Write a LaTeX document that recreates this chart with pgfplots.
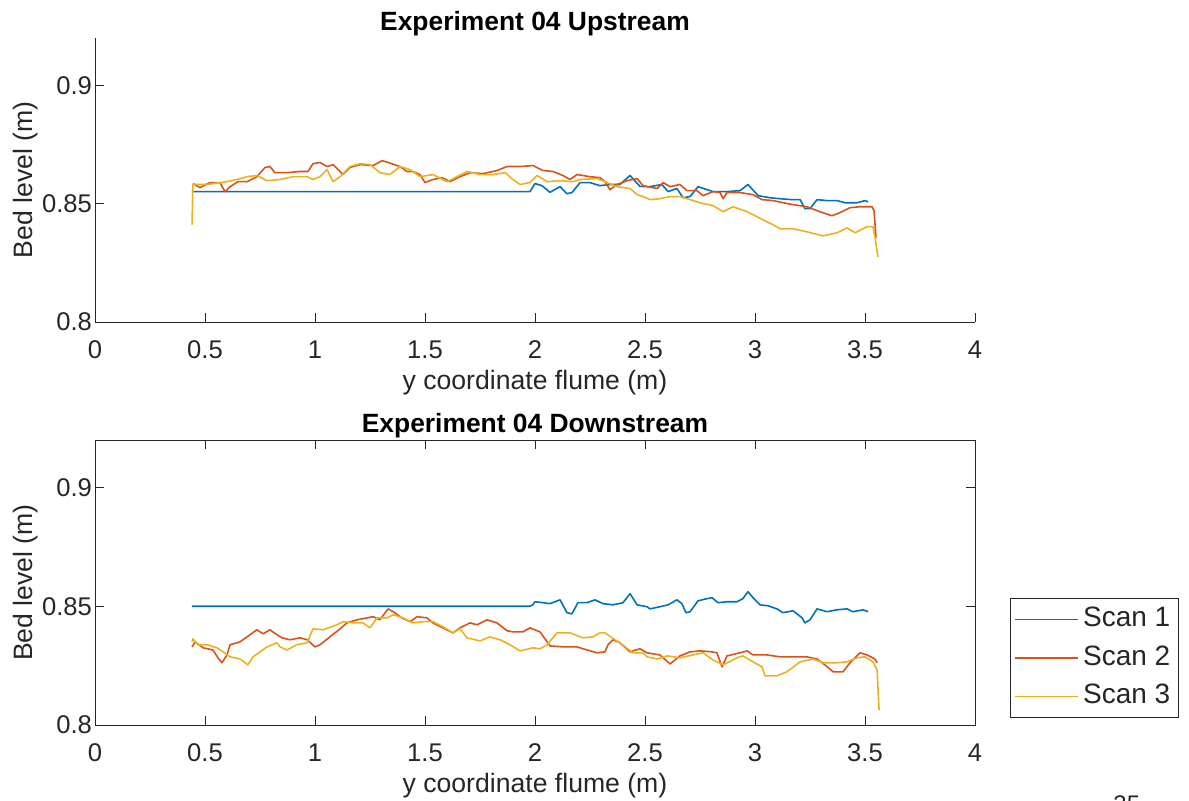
\documentclass[border=0pt]{standalone}
\usepackage{fontspec}
\setmainfont{Liberation Sans}
\usepackage{pgfplots}
\pgfplotsset{compat=1.18}

% MATLAB default line colours
\definecolor{mblue}{rgb}{0,0.447,0.741}
\definecolor{mred}{rgb}{0.850,0.325,0.098}
\definecolor{myellow}{rgb}{0.929,0.694,0.125}
\definecolor{axgray}{rgb}{0.15,0.15,0.15}

\pgfplotsset{
  flume/.style={
    scale only axis, width=440pt,
    xmin=0, xmax=4, ymin=0.8, ymax=0.92,
    xtick={0,0.5,1,1.5,2,2.5,3,3.5,4}, ytick={0.8,0.85,0.9},
    tick align=inside, major tick length=4.4pt,
    axis line style={axgray, line width=0.5pt},
    every tick/.style={axgray, line width=0.5pt},
    tick label style={font=\fontsize{12.8}{14}\selectfont, text=axgray},
    xticklabel style={yshift=-6pt},
    yticklabel style={xshift=2pt},
    label style={font=\fontsize{13.3}{15}\selectfont, text=axgray},
    xlabel style={yshift=1.5pt},
    ylabel style={yshift=-5pt},
    title style={font=\bfseries\fontsize{13.2}{15}\selectfont, text=black, yshift=-8.5pt},
    xlabel={y coordinate flume (m)}, ylabel={Bed level (m)},
    /pgf/number format/assume math mode=true,
    /pgf/number format/fixed,
    every axis plot/.append style={line width=0.8pt, line join=round},
  }
}

\begin{document}
\begin{tikzpicture}
\useasboundingbox (0,0) rectangle (594.5pt,400pt);

% ---------------- upstream ----------------
\begin{axis}[flume, height=142pt,
  at={(47.5pt,239pt)}, anchor=south west,
  axis x line*=bottom, axis y line*=left,
  title={Experiment 04 Upstream}]
\addplot[mblue] table {
0.440 0.8551
1.977 0.8551
2.000 0.8585
2.032 0.8576
2.068 0.8548
2.114 0.8572
2.145 0.8542
2.168 0.8547
2.205 0.8589
2.250 0.8589
2.295 0.8576
2.341 0.8581
2.386 0.8581
2.432 0.8619
2.477 0.8573
2.523 0.8572
2.577 0.8581
2.605 0.8551
2.645 0.8564
2.673 0.8525
2.705 0.8530
2.741 0.8572
2.809 0.8551
2.873 0.8551
2.932 0.8555
2.968 0.8581
3.014 0.8534
3.068 0.8525
3.114 0.8521
3.168 0.8517
3.205 0.8517
3.227 0.8479
3.250 0.8479
3.282 0.8517
3.327 0.8513
3.373 0.8513
3.409 0.8504
3.464 0.8504
3.500 0.8513
3.514 0.8508
};
\addplot[mred] table {
0.445 0.8585
0.477 0.8568
0.523 0.8589
0.568 0.8589
0.591 0.8551
0.614 0.8572
0.650 0.8593
0.691 0.8593
0.736 0.8614
0.773 0.8653
0.795 0.8657
0.818 0.8631
0.873 0.8631
0.932 0.8636
0.968 0.8636
0.991 0.8669
1.023 0.8674
1.055 0.8657
1.082 0.8665
1.127 0.8623
1.159 0.8653
1.205 0.8665
1.264 0.8661
1.305 0.8682
1.332 0.8674
1.386 0.8657
1.418 0.8636
1.445 0.8636
1.477 0.8623
1.500 0.8589
1.536 0.8602
1.577 0.8610
1.614 0.8593
1.659 0.8614
1.705 0.8631
1.764 0.8627
1.827 0.8640
1.873 0.8657
1.932 0.8657
1.991 0.8661
2.036 0.8640
2.082 0.8636
2.127 0.8619
2.159 0.8602
2.191 0.8623
2.250 0.8614
2.295 0.8610
2.318 0.8593
2.341 0.8559
2.373 0.8581
2.418 0.8597
2.464 0.8606
2.491 0.8576
2.555 0.8564
2.582 0.8589
2.614 0.8572
2.659 0.8581
2.691 0.8555
2.736 0.8555
2.764 0.8534
2.809 0.8551
2.841 0.8547
2.855 0.8521
2.873 0.8547
2.932 0.8547
2.991 0.8538
3.032 0.8517
3.082 0.8513
3.127 0.8504
3.173 0.8496
3.236 0.8487
3.295 0.8466
3.350 0.8449
3.386 0.8462
3.432 0.8483
3.477 0.8487
3.532 0.8487
3.541 0.8470
3.550 0.8356
};
\addplot[myellow] table {
0.441 0.8411
0.445 0.8581
0.455 0.8581
0.509 0.8581
0.568 0.8589
0.600 0.8593
0.645 0.8602
0.691 0.8614
0.736 0.8619
0.782 0.8597
0.841 0.8602
0.900 0.8614
0.964 0.8614
0.991 0.8602
1.023 0.8614
1.055 0.8644
1.082 0.8593
1.114 0.8614
1.159 0.8657
1.205 0.8669
1.250 0.8665
1.295 0.8631
1.341 0.8623
1.386 0.8657
1.432 0.8644
1.477 0.8614
1.536 0.8623
1.600 0.8593
1.645 0.8614
1.691 0.8636
1.750 0.8623
1.809 0.8623
1.864 0.8631
1.900 0.8602
1.932 0.8581
1.977 0.8589
2.009 0.8619
2.055 0.8593
2.114 0.8597
2.173 0.8593
2.205 0.8602
2.282 0.8606
2.327 0.8589
2.373 0.8572
2.432 0.8564
2.464 0.8538
2.491 0.8530
2.523 0.8517
2.568 0.8521
2.614 0.8530
2.659 0.8530
2.705 0.8517
2.750 0.8504
2.809 0.8492
2.855 0.8466
2.900 0.8487
2.964 0.8466
3.009 0.8445
3.036 0.8432
3.082 0.8411
3.114 0.8394
3.173 0.8394
3.236 0.8381
3.309 0.8364
3.373 0.8377
3.418 0.8398
3.455 0.8377
3.509 0.8403
3.536 0.8403
3.545 0.8360
3.559 0.8275
};
\end{axis}

% ---------------- downstream ----------------
\begin{axis}[flume, height=142.5pt,
  at={(47.5pt,37.5pt)}, anchor=south west,
  title={Experiment 04 Downstream},
  legend style={at={(1.0398,0.4456)}, anchor=north west,
    draw=axgray, line width=0.5pt, fill=white,
    font=\fontsize{14}{16}\selectfont, text=black!85,
    inner xsep=2pt, inner ysep=3pt, row sep=4.25pt,
    nodes={inner xsep=2pt, inner ysep=1pt, text height=10pt, text depth=3pt}},
  legend cell align=left,
  legend image code/.code={\draw[#1, line width=0.8pt] (0pt,0pt) -- (31.5pt,0pt);}]
\addplot[mblue] table {
0.440 0.8500
1.977 0.8500
1.990 0.8506
2.000 0.8519
2.036 0.8515
2.068 0.8511
2.114 0.8527
2.145 0.8473
2.168 0.8468
2.195 0.8515
2.236 0.8515
2.273 0.8527
2.309 0.8511
2.355 0.8506
2.400 0.8515
2.432 0.8553
2.464 0.8506
2.509 0.8498
2.523 0.8489
2.568 0.8498
2.605 0.8506
2.645 0.8527
2.668 0.8511
2.686 0.8473
2.705 0.8477
2.741 0.8523
2.782 0.8532
2.805 0.8536
2.832 0.8515
2.873 0.8519
2.918 0.8519
2.945 0.8532
2.968 0.8561
2.991 0.8536
3.023 0.8506
3.059 0.8502
3.100 0.8489
3.127 0.8473
3.173 0.8481
3.214 0.8451
3.227 0.8430
3.250 0.8443
3.282 0.8489
3.327 0.8477
3.373 0.8485
3.418 0.8489
3.445 0.8477
3.491 0.8485
3.514 0.8477
};
\addlegendentry{Scan 1}
\addplot[mred] table {
0.441 0.8329
0.455 0.8350
0.491 0.8325
0.536 0.8316
0.559 0.8283
0.577 0.8262
0.600 0.8295
0.614 0.8338
0.659 0.8350
0.691 0.8371
0.736 0.8401
0.764 0.8384
0.795 0.8401
0.827 0.8380
0.850 0.8367
0.886 0.8359
0.932 0.8367
0.964 0.8359
1.000 0.8329
1.023 0.8338
1.068 0.8371
1.114 0.8405
1.145 0.8430
1.191 0.8443
1.236 0.8451
1.264 0.8456
1.295 0.8443
1.332 0.8489
1.355 0.8477
1.395 0.8451
1.432 0.8435
1.464 0.8456
1.509 0.8451
1.536 0.8430
1.582 0.8409
1.627 0.8388
1.659 0.8409
1.705 0.8430
1.736 0.8422
1.782 0.8443
1.827 0.8430
1.873 0.8397
1.900 0.8392
1.945 0.8392
1.977 0.8409
2.023 0.8392
2.068 0.8333
2.127 0.8329
2.191 0.8329
2.236 0.8316
2.282 0.8304
2.318 0.8308
2.332 0.8338
2.355 0.8359
2.386 0.8346
2.432 0.8308
2.477 0.8321
2.509 0.8304
2.568 0.8295
2.614 0.8257
2.659 0.8291
2.705 0.8308
2.750 0.8312
2.805 0.8308
2.827 0.8304
2.850 0.8245
2.873 0.8291
2.932 0.8304
2.964 0.8312
2.991 0.8295
3.055 0.8295
3.114 0.8287
3.173 0.8287
3.236 0.8287
3.282 0.8278
3.318 0.8253
3.355 0.8224
3.400 0.8224
3.432 0.8262
3.477 0.8304
3.509 0.8295
3.545 0.8278
3.555 0.8262
};
\addlegendentry{Scan 2}
\addplot[myellow] table {
0.441 0.8350
0.445 0.8363
0.468 0.8338
0.509 0.8338
0.555 0.8325
0.582 0.8308
0.614 0.8287
0.659 0.8278
0.695 0.8253
0.718 0.8287
0.750 0.8308
0.782 0.8329
0.827 0.8346
0.841 0.8329
0.873 0.8316
0.918 0.8338
0.964 0.8346
0.991 0.8405
1.036 0.8401
1.100 0.8422
1.127 0.8435
1.173 0.8430
1.218 0.8430
1.250 0.8409
1.282 0.8451
1.327 0.8451
1.355 0.8464
1.400 0.8451
1.445 0.8430
1.491 0.8435
1.536 0.8435
1.582 0.8414
1.627 0.8388
1.659 0.8405
1.691 0.8367
1.750 0.8354
1.795 0.8371
1.841 0.8359
1.886 0.8338
1.932 0.8312
1.991 0.8325
2.023 0.8321
2.055 0.8338
2.100 0.8388
2.159 0.8388
2.218 0.8367
2.264 0.8371
2.295 0.8388
2.318 0.8388
2.350 0.8367
2.386 0.8346
2.445 0.8304
2.491 0.8304
2.509 0.8287
2.555 0.8278
2.600 0.8291
2.659 0.8283
2.718 0.8295
2.764 0.8304
2.809 0.8274
2.855 0.8253
2.918 0.8283
2.945 0.8291
2.991 0.8266
3.032 0.8245
3.045 0.8207
3.100 0.8207
3.145 0.8224
3.205 0.8266
3.264 0.8278
3.309 0.8262
3.373 0.8262
3.418 0.8266
3.464 0.8283
3.500 0.8287
3.536 0.8266
3.555 0.8232
3.564 0.8063
};
\addlegendentry{Scan 3}
\end{axis}

% page number at the foot of the slide
\node[anchor=north west, inner sep=0pt, font=\fontsize{12}{14}\selectfont, text=black!85]
  at (556.5pt,2.5pt) {35};
\end{tikzpicture}
\end{document}
